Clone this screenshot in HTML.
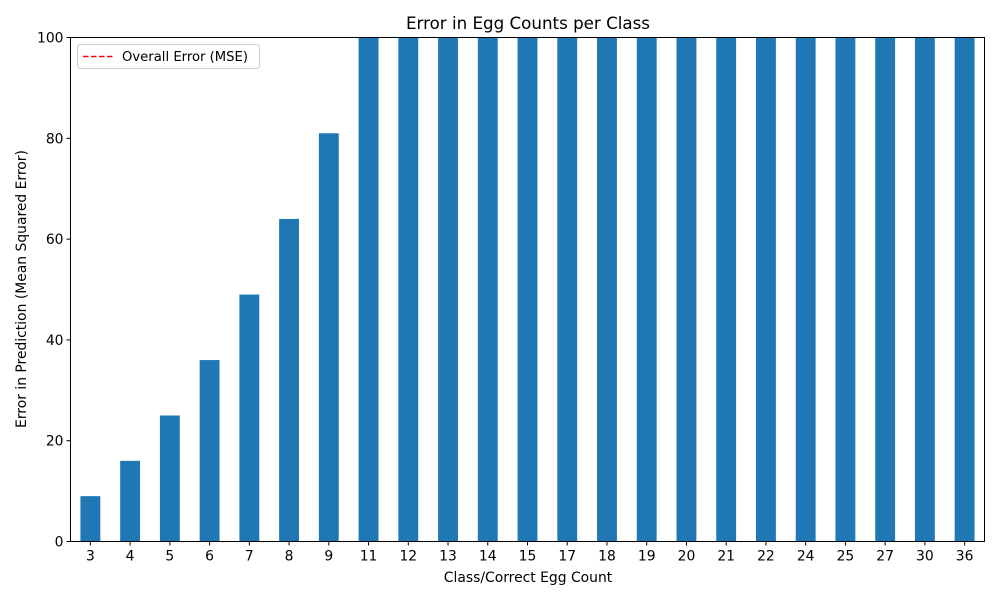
<!DOCTYPE html>
<html><head><meta charset="utf-8"><style>
body{margin:0;background:#fff;font-family:"Liberation Sans","DejaVu Sans",sans-serif;}
svg text{font-family:"DejaVu Sans","Liberation Sans",sans-serif;fill:#000;}
</style></head><body>
<svg id="chart" width="1000" height="600" viewBox="0 0 1000 600" xmlns="http://www.w3.org/2000/svg">
<rect width="1000" height="600" fill="#fff"/>
<text x="528" y="29" font-size="16.7" text-anchor="middle">Error in Egg Counts per Class</text>
<g id="bars"></g>
<g id="xticks"></g>
<g id="yticks"></g>
<rect x="70.5" y="37.5" width="914" height="504" fill="none" stroke="#000" stroke-width="1"/>
<text x="528" y="582" font-size="13.9" text-anchor="middle">Class/Correct Egg Count</text>
<text transform="translate(26,289) rotate(-90)" font-size="13.9" text-anchor="middle">Error in Prediction (Mean Squared Error)</text>
<g>
<rect x="77.5" y="44.5" width="182" height="24" rx="3" fill="#fff" fill-opacity="0.8" stroke="#ccc"/>
<line x1="83" y1="56.5" x2="113" y2="56.5" stroke="#ff0000" stroke-width="1.5" stroke-dasharray="5.5,2.5"/>
<text x="122" y="61" font-size="13.2">Overall Error (MSE)</text>
</g>
</svg>
<script>
const categories = ["3","4","5","6","7","8","9","11","12","13","14","15","17","18","19","20","21","22","24","25","27","30","36"];
const values = [9,16,25,36,49,64,81,121,144,169,196,225,289,324,361,400,441,484,576,625,729,900,1296];
const yTicks = [0,20,40,60,80,100];
const NS="http://www.w3.org/2000/svg";
const L=70.5,R=984.5,T=37.5,B=541.5,yMax=100;
const step=(R-L)/categories.length;
const xc=i=>L+step*(i+0.5);
const y=v=>B-(Math.min(v,yMax)/yMax)*(B-T);
const bars=document.getElementById('bars');
const xt=document.getElementById('xticks');
const yt=document.getElementById('yticks');
categories.forEach((c,i)=>{
  const r=document.createElementNS(NS,'rect');
  const w=step*0.5;
  r.setAttribute('x',xc(i)-w/2);r.setAttribute('y',y(values[i]));
  r.setAttribute('width',w);r.setAttribute('height',B-y(values[i]));
  r.setAttribute('fill','#1f77b4');
  
  
  bars.appendChild(r);
  const tk=document.createElementNS(NS,'line');
  tk.setAttribute('x1',xc(i));tk.setAttribute('x2',xc(i));tk.setAttribute('y1',B);tk.setAttribute('y2',B+4);tk.setAttribute('stroke','#000');
  
  
  xt.appendChild(tk);
  const t=document.createElementNS(NS,'text');
  t.setAttribute('x',xc(i));t.setAttribute('y',B+19);t.setAttribute('font-size','13.9');t.setAttribute('text-anchor','middle');
  t.textContent=c;
  
  
  xt.appendChild(t);
});
yTicks.forEach(v=>{
  const tk=document.createElementNS(NS,'line');
  tk.setAttribute('x1',L-4);tk.setAttribute('x2',L);tk.setAttribute('y1',y(v));tk.setAttribute('y2',y(v));tk.setAttribute('stroke','#000');
  
  
  yt.appendChild(tk);
  const t=document.createElementNS(NS,'text');
  t.setAttribute('x',L-7);t.setAttribute('y',y(v)+5);t.setAttribute('font-size','13.9');t.setAttribute('text-anchor','end');
  t.textContent=v;
  
  
  yt.appendChild(t);
});
</script>
</body></html>
